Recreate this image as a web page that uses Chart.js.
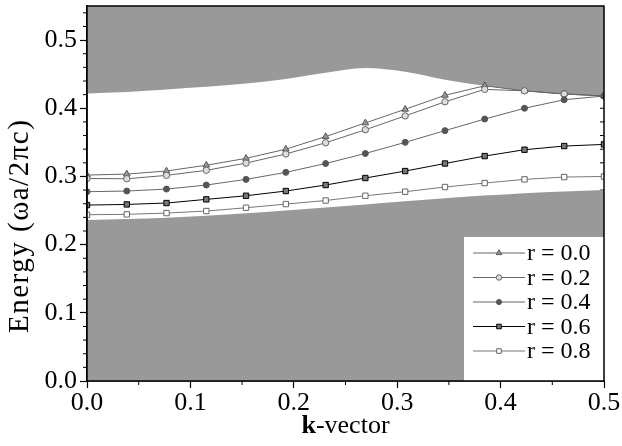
<!DOCTYPE html>
<html><head><meta charset="utf-8">
<script src="https://cdn.jsdelivr.net/npm/chart.js@4.4.1/dist/chart.umd.min.js"></script>
<style>html,body{margin:0;padding:0;background:#fff;} #wrap{width:622px;height:446px;}</style>
</head><body><div id="wrap"><canvas id="c" width="622" height="446"></canvas></div>
<script>
// ---------- data ----------
const kVector = [0, 0.0385, 0.0769, 0.1154, 0.1538, 0.1923, 0.2308, 0.2692, 0.3077, 0.3462, 0.3846, 0.4231, 0.4615, 0.5];
const seriesLabels = ['r = 0.0', 'r = 0.2', 'r = 0.4', 'r = 0.6', 'r = 0.8'];
const r00 = [0.302, 0.3035, 0.308, 0.3165, 0.3265, 0.340, 0.3585, 0.3785, 0.3985, 0.419, 0.433, 0.4256, 0.421, 0.418];
const r02 = [0.297, 0.2966, 0.3016, 0.309, 0.3196, 0.333, 0.3494, 0.3685, 0.3888, 0.4095, 0.4277, 0.4256, 0.421, 0.418];
const r04 = [0.2776, 0.2786, 0.2815, 0.2874, 0.2957, 0.306, 0.319, 0.3337, 0.350, 0.3672, 0.3842, 0.400, 0.4125, 0.418];
const r06 = [0.258, 0.259, 0.261, 0.2664, 0.2717, 0.2786, 0.2874, 0.2977, 0.3079, 0.319, 0.3299, 0.3392, 0.3446, 0.347];
const r08 = [0.2439, 0.2444, 0.2463, 0.2493, 0.2541, 0.2595, 0.2647, 0.2717, 0.2776, 0.2845, 0.2903, 0.2957, 0.2991, 0.300];
const upperBandEdge = [0.4218, 0.424, 0.4277, 0.4315, 0.4365, 0.443, 0.452, 0.459, 0.4535, 0.442, 0.433, 0.4256, 0.421, 0.418];
const lowerBandEdge = [0.236, 0.2375, 0.2395, 0.2425, 0.246, 0.250, 0.2545, 0.259, 0.2635, 0.268, 0.272, 0.2755, 0.278, 0.280];
const xTickValues = [0, 0.1, 0.2, 0.3, 0.4, 0.5];
const yTickValues = [0, 0.1, 0.2, 0.3, 0.4, 0.5];
const xMinorTicks = [0.05, 0.15, 0.25, 0.35, 0.45];
const yMinorTicks = [0.02, 0.04, 0.06, 0.08, 0.12, 0.14, 0.16, 0.18, 0.22, 0.24, 0.26, 0.28, 0.32, 0.34, 0.36, 0.38, 0.42, 0.44, 0.46, 0.48, 0.52, 0.54];
const xTitleBold = 'k';
const xTitleRest = '-vector';
const yTitle = 'Energy (\u03c9a/2\u03c0c)';

// ---------- chart ----------
const FONT = "'Liberation Serif', 'Times New Roman', serif";
const pts = (ys) => kVector.map((k, i) => ({ x: k, y: ys[i] }));

const seriesStyles = [
  { line: '#666', style: 'triangle', radius: 3.8, bg: '#999', border: '#555', order: 5 },
  { line: '#666', style: 'circle', radius: 3.2, bg: '#ddd', border: '#666', order: 4 },
  { line: '#666', style: 'circle', radius: 3.0, bg: '#555', border: '#555', order: 3 },
  { line: '#000', style: 'rect', radius: 3.8, bg: '#777', border: '#000', order: 2 },
  { line: '#777', style: 'rect', radius: 3.8, bg: '#fff', border: '#666', order: 1 }
];
const seriesData = [r00, r02, r04, r06, r08];

const datasets = seriesData.map((d, i) => ({
  label: seriesLabels[i],
  data: pts(d),
  borderColor: seriesStyles[i].line,
  borderWidth: 1,
  pointStyle: seriesStyles[i].style,
  pointRadius: seriesStyles[i].radius,
  pointBackgroundColor: seriesStyles[i].bg,
  pointBorderColor: seriesStyles[i].border,
  pointBorderWidth: 1,
  fill: false,
  tension: 0,
  order: seriesStyles[i].order
}));
datasets.push({
  label: 'upper', data: pts(upperBandEdge), borderColor: 'rgba(0,0,0,0)', borderWidth: 0,
  pointRadius: 0, fill: 'end', backgroundColor: '#999999', cubicInterpolationMode: 'monotone', order: 10
});
datasets.push({
  label: 'lower', data: pts(lowerBandEdge), borderColor: 'rgba(0,0,0,0)', borderWidth: 0,
  pointRadius: 0, fill: 'start', backgroundColor: '#999999', cubicInterpolationMode: 'monotone', order: 11
});

function line(ctx, x1, y1, x2, y2) { ctx.beginPath(); ctx.moveTo(x1, y1); ctx.lineTo(x2, y2); ctx.stroke(); }

const decorPlugin = {
  id: 'decor',
  beforeDatasetsDraw(chart) {
    const { ctx, chartArea: { right }, scales: { y } } = chart;
    ctx.save(); ctx.strokeStyle = '#000'; ctx.lineWidth = 1;
    [...yTickValues, ...yMinorTicks].forEach(v => { const py = y.getPixelForValue(v); line(ctx, right - 4, py, right, py); });
    ctx.restore();
  },
  afterDatasetsDraw(chart) {
    const { ctx, chartArea: { right, bottom } } = chart;
    const boxW = 140, boxH = 144;
    const bx = right - boxW, by = bottom - boxH;
    ctx.save();
    ctx.fillStyle = '#fff';
    ctx.fillRect(bx, by, boxW, boxH);
    const rowY0 = by + 16, rowStep = 24.5;
    seriesLabels.forEach((lab, i) => {
      const st = seriesStyles[i];
      const yy = rowY0 + i * rowStep;
      ctx.strokeStyle = st.line; ctx.lineWidth = 1;
      line(ctx, bx + 9, yy, bx + 61, yy);
      ctx.fillStyle = st.bg; ctx.strokeStyle = st.border; ctx.lineWidth = 1;
      Chart.helpers.drawPoint(ctx, { pointStyle: st.style, radius: st.radius * 0.85, borderWidth: 1, rotation: 0 }, bx + 35, yy);
      ctx.fillStyle = '#000';
      ctx.font = "24px " + FONT;
      ctx.textBaseline = 'middle'; ctx.textAlign = 'left';
      ctx.fillText(lab, bx + 63, yy + 1);
    });
    ctx.restore();
  },
  afterDraw(chart) {
    const { ctx, chartArea: { left, right, top, bottom }, scales: { x, y } } = chart;
    ctx.save();
    ctx.strokeStyle = '#000'; ctx.lineWidth = 1.5;
    ctx.strokeRect(left, top, right - left, bottom - top);
    ctx.lineWidth = 1;
    yMinorTicks.forEach(v => { const py = y.getPixelForValue(v); line(ctx, left - 4, py, left, py); });
    xMinorTicks.forEach(v => { const px = x.getPixelForValue(v); line(ctx, px, bottom, px, bottom + 4); });
    // y title (rotated), "E" starting near y=333
    ctx.fillStyle = '#000';
    ctx.save();
    ctx.translate(28, 333);
    ctx.rotate(-Math.PI / 2);
    ctx.textAlign = 'left'; ctx.textBaseline = 'alphabetic';
    ctx.font = "29px " + FONT;
    ctx.letterSpacing = '1.5px';
    ctx.fillText(yTitle, 0, 0);
    ctx.letterSpacing = '0px';
    ctx.restore();
    // x title
    ctx.font = "bold 26px " + FONT;
    const wb = ctx.measureText(xTitleBold).width;
    ctx.font = "26px " + FONT;
    const wr = ctx.measureText(xTitleRest).width;
    const cx = (left + right) / 2;
    const sx = cx - (wb + wr) / 2;
    ctx.textAlign = 'left'; ctx.textBaseline = 'alphabetic';
    ctx.font = "bold 26px " + FONT;
    ctx.fillText(xTitleBold, sx, 433);
    ctx.font = "26px " + FONT;
    ctx.fillText(xTitleRest, sx + wb, 433);
    ctx.restore();
  }
};

new Chart(document.getElementById('c'), {
  type: 'line',
  data: { datasets },
  options: {
    responsive: false,
    animation: false,
    layout: { padding: { top: 6, right: 18, left: 0, bottom: 0 } },
    plugins: { legend: { display: false }, tooltip: { enabled: false } },
    scales: {
      x: {
        type: 'linear', min: 0, max: 0.5,
        afterBuildTicks: s => { s.ticks = xTickValues.map(v => ({ value: v })); },
        afterFit: s => { s.height = 65; s.paddingLeft = 0; s.paddingRight = 0; },
        ticks: { font: { family: FONT, size: 26 }, color: '#000', padding: 0, maxRotation: 0, autoSkip: false,
                 callback: v => Number(v).toFixed(1) },
        grid: { drawOnChartArea: false, drawTicks: true, tickLength: 7, tickColor: '#000', tickWidth: 1.2 },
        border: { display: true, color: '#000', width: 1.5 }
      },
      y: {
        type: 'linear', min: 0, max: 0.55,
        afterBuildTicks: s => { s.ticks = yTickValues.map(v => ({ value: v })); },
        afterFit: s => { s.width = 87; s.paddingTop = 0; s.paddingBottom = 0; },
        ticks: { font: { family: FONT, size: 26 }, color: '#000', padding: 3, autoSkip: false,
                 callback: v => Number(v).toFixed(1) },
        grid: { drawOnChartArea: false, drawTicks: true, tickLength: 7, tickColor: '#000', tickWidth: 1.2 },
        border: { display: true, color: '#000', width: 1.5 }
      }
    }
  },
  plugins: [decorPlugin]
});
</script>
</body></html>
